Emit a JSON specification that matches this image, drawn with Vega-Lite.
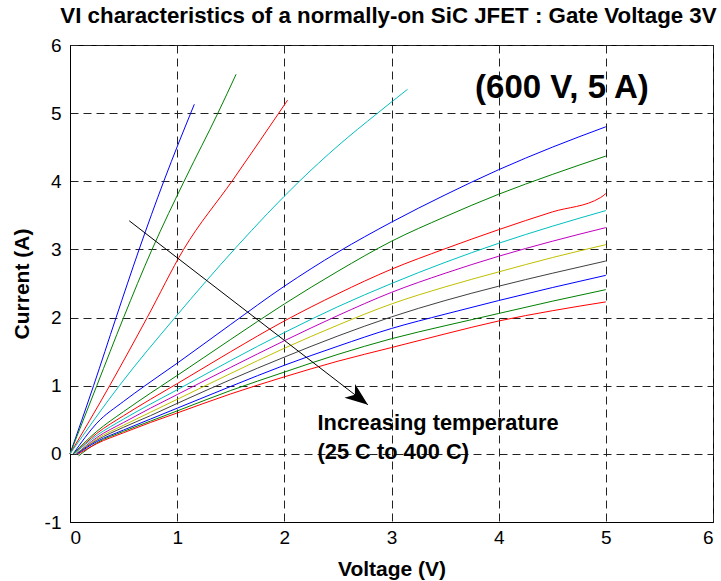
{
  "$schema": "https://vega.github.io/schema/vega-lite/v6.json",
  "width": 643,
  "height": 477,
  "autosize": {"type": "none"},
  "padding": {"left": 70, "top": 45, "right": 8, "bottom": 59},
  "background": "white",
  "title": {
    "text": "VI characteristics of a normally-on SiC JFET : Gate Voltage 3V",
    "font": "Liberation Sans",
    "fontSize": 22.3,
    "fontWeight": "bold",
    "color": "black",
    "anchor": "middle",
    "dx": -3,
    "offset": 9
  },
  "config": {
    "font": "Liberation Sans",
    "view": {"stroke": "black", "strokeWidth": 1},
    "axis": {
      "grid": true,
      "gridColor": "#222222",
      "gridDash": [8, 5],
      "gridWidth": 1,
      "domainColor": "black",
      "ticks": false,
      "labelFontSize": 19,
      "labelColor": "black",
      "titleFontSize": 21,
      "titleFontWeight": "bold",
      "titleColor": "black",
      "labelFont": "Liberation Sans",
      "titleFont": "Liberation Sans"
    }
  },
  "datasets": {
    "curves": [
      {"s": "c01", "x": 0, "y": 0}, {"s": "c01", "x": 0.22, "y": 1}, {"s": "c01", "x": 0.43, "y": 2}, {"s": "c01", "x": 0.645, "y": 3}, {"s": "c01", "x": 0.875, "y": 4}, {"s": "c01", "x": 1.16, "y": 5.13},
      {"s": "c02", "x": 0, "y": 0}, {"s": "c02", "x": 0.25, "y": 1}, {"s": "c02", "x": 0.5, "y": 2}, {"s": "c02", "x": 0.76, "y": 2.98}, {"s": "c02", "x": 1.08, "y": 4.05}, {"s": "c02", "x": 1.38, "y": 5.0}, {"s": "c02", "x": 1.55, "y": 5.57},
      {"s": "c03", "x": 0, "y": 0}, {"s": "c03", "x": 0.37, "y": 1}, {"s": "c03", "x": 0.72, "y": 2}, {"s": "c03", "x": 1.06, "y": 3}, {"s": "c03", "x": 1.52, "y": 4.02}, {"s": "c03", "x": 2.03, "y": 5.19},
      {"s": "c04", "x": 0, "y": 0}, {"s": "c04", "x": 0.46, "y": 1}, {"s": "c04", "x": 0.98, "y": 2}, {"s": "c04", "x": 1.55, "y": 3.03}, {"s": "c04", "x": 2.14, "y": 4}, {"s": "c04", "x": 2.5, "y": 4.52}, {"s": "c04", "x": 2.87, "y": 5}, {"s": "c04", "x": 3.15, "y": 5.35},
      {"s": "c05", "x": 0.03, "y": 0}, {"s": "c05", "x": 0.25, "y": 0.45}, {"s": "c05", "x": 0.5, "y": 0.77}, {"s": "c05", "x": 0.7, "y": 1.0}, {"s": "c05", "x": 1, "y": 1.33}, {"s": "c05", "x": 1.5, "y": 1.9}, {"s": "c05", "x": 2, "y": 2.46}, {"s": "c05", "x": 2.5, "y": 2.96}, {"s": "c05", "x": 3, "y": 3.4}, {"s": "c05", "x": 3.5, "y": 3.8}, {"s": "c05", "x": 4, "y": 4.17}, {"s": "c05", "x": 4.5, "y": 4.5}, {"s": "c05", "x": 5, "y": 4.8},
      {"s": "c06", "x": 0.03, "y": 0}, {"s": "c06", "x": 0.25, "y": 0.33}, {"s": "c06", "x": 0.5, "y": 0.62}, {"s": "c06", "x": 0.75, "y": 0.89}, {"s": "c06", "x": 1, "y": 1.15}, {"s": "c06", "x": 1.5, "y": 1.68}, {"s": "c06", "x": 2, "y": 2.2}, {"s": "c06", "x": 2.5, "y": 2.68}, {"s": "c06", "x": 3, "y": 3.12}, {"s": "c06", "x": 3.5, "y": 3.48}, {"s": "c06", "x": 4, "y": 3.81}, {"s": "c06", "x": 4.5, "y": 4.1}, {"s": "c06", "x": 5, "y": 4.37},
      {"s": "c07", "x": 0.04, "y": 0}, {"s": "c07", "x": 0.25, "y": 0.3}, {"s": "c07", "x": 0.5, "y": 0.56}, {"s": "c07", "x": 0.75, "y": 0.8}, {"s": "c07", "x": 1, "y": 1.03}, {"s": "c07", "x": 1.5, "y": 1.5}, {"s": "c07", "x": 2, "y": 1.95}, {"s": "c07", "x": 2.5, "y": 2.35}, {"s": "c07", "x": 3, "y": 2.71}, {"s": "c07", "x": 3.5, "y": 3.01}, {"s": "c07", "x": 4, "y": 3.29}, {"s": "c07", "x": 4.5, "y": 3.55}, {"s": "c07", "x": 4.95, "y": 3.76}, {"s": "c07", "x": 5, "y": 3.82},
      {"s": "c08", "x": 0.04, "y": 0}, {"s": "c08", "x": 0.25, "y": 0.27}, {"s": "c08", "x": 0.5, "y": 0.51}, {"s": "c08", "x": 0.75, "y": 0.73}, {"s": "c08", "x": 1, "y": 0.94}, {"s": "c08", "x": 1.5, "y": 1.37}, {"s": "c08", "x": 2, "y": 1.78}, {"s": "c08", "x": 2.5, "y": 2.16}, {"s": "c08", "x": 3, "y": 2.5}, {"s": "c08", "x": 3.5, "y": 2.81}, {"s": "c08", "x": 4, "y": 3.09}, {"s": "c08", "x": 4.5, "y": 3.34}, {"s": "c08", "x": 5, "y": 3.57},
      {"s": "c09", "x": 0.06, "y": 0}, {"s": "c09", "x": 0.25, "y": 0.24}, {"s": "c09", "x": 0.5, "y": 0.46}, {"s": "c09", "x": 0.75, "y": 0.67}, {"s": "c09", "x": 1, "y": 0.87}, {"s": "c09", "x": 1.5, "y": 1.27}, {"s": "c09", "x": 2, "y": 1.66}, {"s": "c09", "x": 2.5, "y": 2.03}, {"s": "c09", "x": 3, "y": 2.37}, {"s": "c09", "x": 3.5, "y": 2.65}, {"s": "c09", "x": 4, "y": 2.9}, {"s": "c09", "x": 4.5, "y": 3.12}, {"s": "c09", "x": 5, "y": 3.32},
      {"s": "c10", "x": 0.06, "y": 0}, {"s": "c10", "x": 0.25, "y": 0.22}, {"s": "c10", "x": 0.5, "y": 0.42}, {"s": "c10", "x": 0.75, "y": 0.61}, {"s": "c10", "x": 1, "y": 0.8}, {"s": "c10", "x": 1.5, "y": 1.18}, {"s": "c10", "x": 2, "y": 1.55}, {"s": "c10", "x": 2.5, "y": 1.89}, {"s": "c10", "x": 3, "y": 2.2}, {"s": "c10", "x": 3.5, "y": 2.45}, {"s": "c10", "x": 4, "y": 2.67}, {"s": "c10", "x": 4.5, "y": 2.88}, {"s": "c10", "x": 5, "y": 3.07},
      {"s": "c11", "x": 0.06, "y": 0}, {"s": "c11", "x": 0.25, "y": 0.2}, {"s": "c11", "x": 0.5, "y": 0.39}, {"s": "c11", "x": 0.75, "y": 0.56}, {"s": "c11", "x": 1, "y": 0.74}, {"s": "c11", "x": 1.5, "y": 1.09}, {"s": "c11", "x": 2, "y": 1.42}, {"s": "c11", "x": 2.5, "y": 1.73}, {"s": "c11", "x": 3, "y": 2.01}, {"s": "c11", "x": 3.5, "y": 2.25}, {"s": "c11", "x": 4, "y": 2.46}, {"s": "c11", "x": 4.5, "y": 2.65}, {"s": "c11", "x": 5, "y": 2.83},
      {"s": "c12", "x": 0.07, "y": 0}, {"s": "c12", "x": 0.25, "y": 0.18}, {"s": "c12", "x": 0.5, "y": 0.35}, {"s": "c12", "x": 0.75, "y": 0.51}, {"s": "c12", "x": 1, "y": 0.67}, {"s": "c12", "x": 1.5, "y": 0.99}, {"s": "c12", "x": 2, "y": 1.3}, {"s": "c12", "x": 2.5, "y": 1.58}, {"s": "c12", "x": 3, "y": 1.84}, {"s": "c12", "x": 3.5, "y": 2.05}, {"s": "c12", "x": 4, "y": 2.25}, {"s": "c12", "x": 4.5, "y": 2.44}, {"s": "c12", "x": 5, "y": 2.62},
      {"s": "c13", "x": 0.08, "y": -0.03}, {"s": "c13", "x": 0.25, "y": 0.16}, {"s": "c13", "x": 0.5, "y": 0.33}, {"s": "c13", "x": 0.75, "y": 0.48}, {"s": "c13", "x": 1, "y": 0.63}, {"s": "c13", "x": 1.5, "y": 0.93}, {"s": "c13", "x": 2, "y": 1.2}, {"s": "c13", "x": 2.5, "y": 1.46}, {"s": "c13", "x": 3, "y": 1.69}, {"s": "c13", "x": 3.5, "y": 1.88}, {"s": "c13", "x": 4, "y": 2.06}, {"s": "c13", "x": 4.5, "y": 2.24}, {"s": "c13", "x": 5, "y": 2.41},
      {"s": "c14", "x": 0.08, "y": 0}, {"s": "c14", "x": 0.25, "y": 0.15}, {"s": "c14", "x": 0.5, "y": 0.31}, {"s": "c14", "x": 0.75, "y": 0.46}, {"s": "c14", "x": 1, "y": 0.6}, {"s": "c14", "x": 1.5, "y": 0.88}, {"s": "c14", "x": 2, "y": 1.13}, {"s": "c14", "x": 2.5, "y": 1.36}, {"s": "c14", "x": 3, "y": 1.56}, {"s": "c14", "x": 3.5, "y": 1.76}, {"s": "c14", "x": 4, "y": 1.95}, {"s": "c14", "x": 4.5, "y": 2.1}, {"s": "c14", "x": 5, "y": 2.23}
    ],
    "arrow": [{"x": 0.553, "y": 3.42, "x2": 2.78, "y2": 0.72}],
    "labels": [
      {"x": 3.78, "y": 5.37, "t": "(600 V, 5 A)", "big": "yes"},
      {"x": 2.31, "y": 0.45, "t": "Increasing temperature", "big": "no"},
      {"x": 2.31, "y": 0.03, "t": "(25 C to 400 C)", "big": "no"}
    ]
  },
  "layer": [
    {
      "data": {"name": "curves"},
      "mark": {"type": "line", "strokeWidth": 1, "interpolate": "monotone"},
      "encoding": {
        "x": {
          "field": "x", "type": "quantitative",
          "scale": {"domain": [0, 6], "nice": false, "zero": false},
          "axis": {"values": [0, 1, 2, 3, 4, 5, 6], "title": "Voltage (V)", "labelExpr": "'' + datum.value", "labelPadding": 6, "titlePadding": 11}
        },
        "y": {
          "field": "y", "type": "quantitative",
          "scale": {"domain": [-1, 6], "nice": false, "zero": false},
          "axis": {"values": [-1, 0, 1, 2, 3, 4, 5, 6], "title": "Current (A)", "labelExpr": "'' + datum.value", "labelPadding": 9, "titlePadding": 12}
        },
        "color": {
          "field": "s", "type": "nominal", "legend": null,
          "scale": {
            "domain": ["c01", "c02", "c03", "c04", "c05", "c06", "c07", "c08", "c09", "c10", "c11", "c12", "c13", "c14"],
            "range": ["#0000ff", "#008000", "#ff0000", "#00bfbf", "#0000ff", "#008000", "#ff0000", "#00bfbf", "#bf00bf", "#bfbf00", "#404040", "#0000ff", "#008000", "#ff0000"]
          }
        },
        "detail": {"field": "s"}
      }
    },
    {
      "data": {"name": "arrow"},
      "mark": {"type": "rule", "color": "black", "strokeWidth": 1},
      "encoding": {
        "x": {"field": "x", "type": "quantitative"},
        "y": {"field": "y", "type": "quantitative"},
        "x2": {"field": "x2"},
        "y2": {"field": "y2"}
      }
    },
    {
      "data": {"name": "arrow"},
      "mark": {"type": "point", "filled": true, "color": "black", "opacity": 1, "shape": "M0,0 L-1,-0.38 L-0.72,0 L-1,0.38 Z", "size": 2100, "angle": 37.6, "strokeWidth": 0},
      "encoding": {
        "x": {"field": "x2", "type": "quantitative"},
        "y": {"field": "y2", "type": "quantitative"}
      }
    },
    {
      "data": {"name": "labels"},
      "mark": {"type": "text", "align": "left", "baseline": "middle", "fontWeight": "bold", "color": "black", "font": "Liberation Sans"},
      "encoding": {
        "x": {"field": "x", "type": "quantitative"},
        "y": {"field": "y", "type": "quantitative"},
        "text": {"field": "t"},
        "size": {"field": "big", "type": "nominal", "legend": null, "scale": {"domain": ["yes", "no"], "range": [33, 21.8]}}
      }
    }
  ]
}
